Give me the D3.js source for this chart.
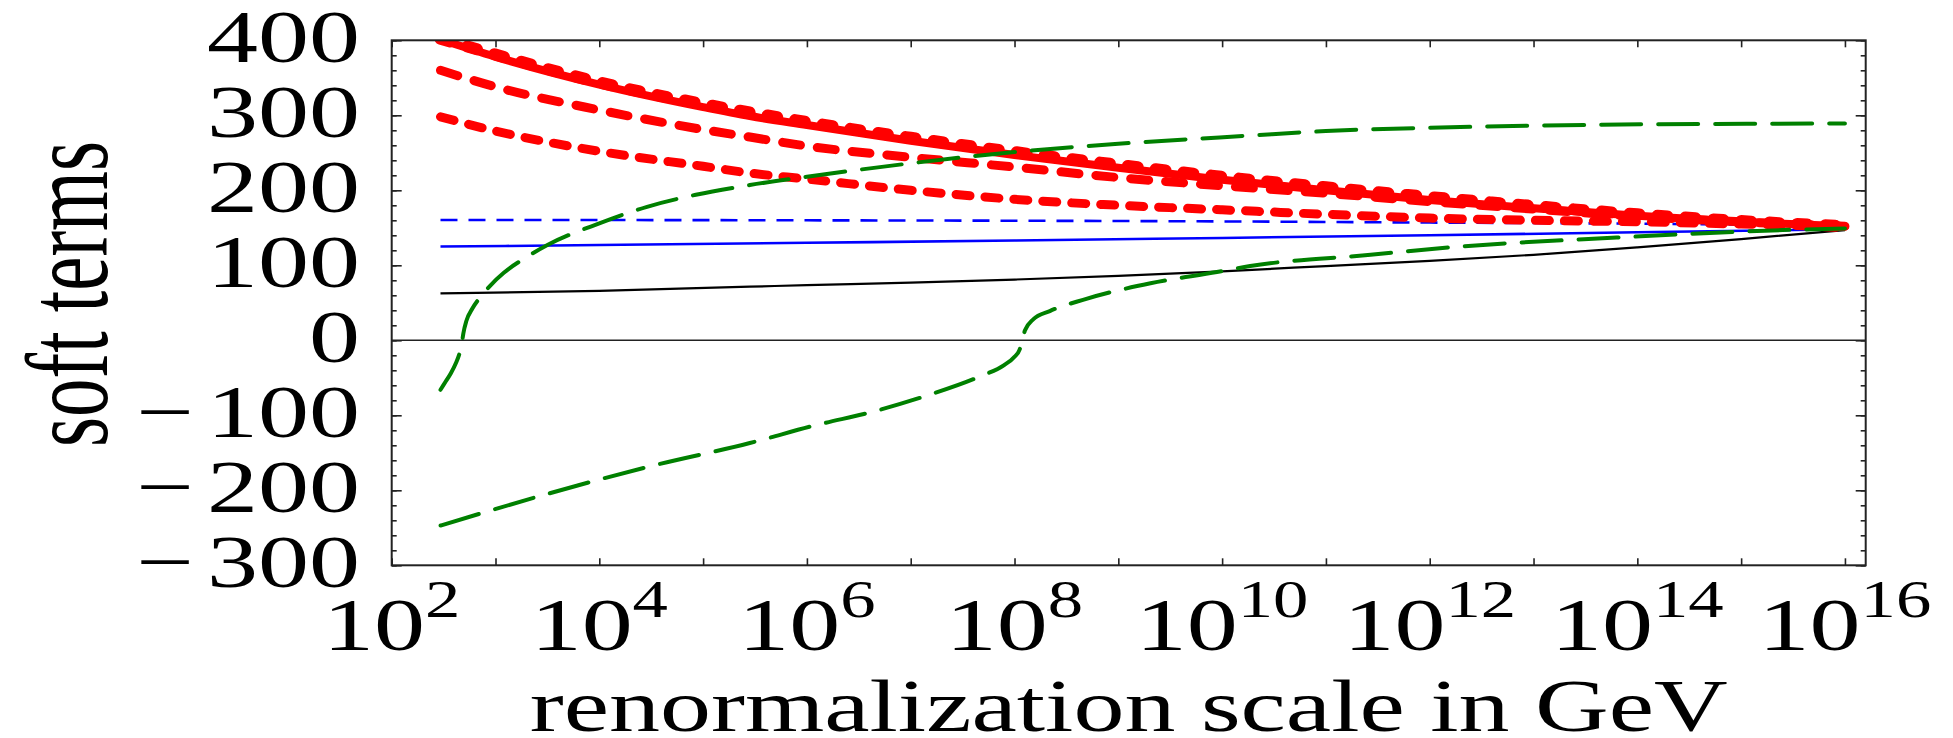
<!DOCTYPE html>
<html>
<head>
<meta charset="utf-8">
<script src="https://cdn.jsdelivr.net/npm/d3@7"></script>
<style>
  body { margin: 0; background: #fff; }
  text { font-family: "Liberation Serif", "Times New Roman", serif; fill: #000; }
</style>
</head>
<body>
<div id="chart"></div>
<script>
// x values are log10 of the renormalization scale in GeV, y values are soft terms in GeV
const redSolid = [[2.47,401],[3,378],[4,341],[5,311],[5.45,299],[6,287],[7,266],[8,247],[9,230],[10,214],[11,200],[12,187],[13,176],[14,166],[15,158],[16,152]];
const redThick = [[2.47,402],[3,381],[4,344],[5,315],[6,291],[7,270],[8,251],[9,234],[10,218],[11,204],[12,191],[13,179],[14,168],[15,159],[16,152]];
const redMid = [[2.47,360],[3,338],[4,307],[5,281],[5.45,271],[6,259],[7,244],[8,231],[9,217],[10,206],[11,196],[12,185],[13,175],[14,165],[15,158],[16,152]];
const redLow = [[2.47,298],[3,279],[4,252],[5,232],[5.45,223],[6,215],[7,200],[8,188],[9,180],[10,174],[11,168],[12,163],[13,160],[14,158],[15,155],[16,152]];
const blueDashed = [[2.47,160.5],[6,160],[10,158.5],[12,157],[14,155.5],[16,153]];
const blueSolid = [[2.47,125],[4,127],[6,130],[8,133],[10,136.5],[12,140],[14,144],[16,148]];
const blackSolid = [[2.47,62.5],[4,66],[5.45,71.5],[6,73.5],[7,77],[8,81],[9,86],[10,92],[11,99],[12,106],[13,114],[14,124],[15,135],[16,147]];
const greenA = [[2.47,-66],[2.52,-55],[2.57,-44],[2.62,-30],[2.65,-19],[2.67,-9],[2.68,0],[2.69,9],[2.72,26],[2.78,43],[2.85,57],[2.95,73],[3.08,90],[3.3,111],[3.5,127],[4,156],[4.46,178],[4.93,194],[5.45,207],[6,218],[7,236],[8,251],[9,262],[10.27,273],[11,279],[12.2,284],[14.1,288],[16,289]];
const greenB = [[2.47,-247],[3.52,-204],[4.49,-168],[5.45,-137],[6.09,-113],[6.64,-95],[7.15,-74],[7.67,-48],[7.9,-33],[8.0,-22],[8.05,-12],[8.075,0],[8.1,13],[8.18,28],[8.34,39],[8.66,54],[9.31,76],[9.95,91],[10.27,99],[11.43,114],[12.29,125],[13.8,137],[15.4,147],[16,149]];

const xDecades = d3.range(2, 17);           // tick at every decade
const xLabelExps = [2, 4, 6, 8, 10, 12, 14, 16];
const yMajor = [-300, -200, -100, 0, 100, 200, 300, 400];
const yMinor = d3.range(-300, 401, 20);

const xTitle = "renormalization scale in GeV";
const yTitle = "soft terms";

const width = 1953, height = 738;
const margin = {top: 40.3, right: 87.3, bottom: 172.7, left: 391.7};
const SX = 1.36;   // the original figure is stretched horizontally

const x = d3.scaleLog().domain([1e2, Math.pow(10, 16.2)]).range([margin.left, width - margin.right]);
const y = d3.scaleLinear().domain([-300, 400]).range([height - margin.bottom, margin.top]);

const svg = d3.select("#chart").append("svg")
    .attr("width", width)
    .attr("height", height);

svg.append("defs").append("clipPath").attr("id", "plot-clip")
  .append("rect")
    .attr("x", margin.left).attr("y", margin.top)
    .attr("width", x.range()[1] - margin.left)
    .attr("height", y.range()[0] - margin.top);

// zero line
svg.append("line")
    .attr("x1", x.range()[0]).attr("x2", x.range()[1])
    .attr("y1", y(0)).attr("y2", y(0))
    .attr("stroke", "#222").attr("stroke-width", 1.6);

const line = d3.line()
    .x(d => x(Math.pow(10, d[0])))
    .y(d => y(d[1]))
    .curve(d3.curveMonotoneX);

const series = [
  {data: blackSolid, color: "#000", width: 2.2, dash: null, cap: "butt"},
  {data: blueSolid, color: "#0000ff", width: 2.6, dash: null, cap: "butt"},
  {data: blueDashed, color: "#0000ff", width: 2.6, dash: "17,11", cap: "butt"},
  {data: redLow, color: "#ff0000", width: 9, dash: "14,15", cap: "round"},
  {data: redMid, color: "#ff0000", width: 9, dash: "18,17", cap: "round"},
  {data: redSolid, color: "#ff0000", width: 8, dash: null, cap: "round"},
  {data: redThick, color: "#ff0000", width: 12, dash: "10,18", cap: "round"},
  {data: greenA, color: "#008000", width: 4, dash: "40,17", cap: "round"},
  {data: greenB, color: "#008000", width: 4, dash: "40,17", cap: "round"}
];

const curves = svg.append("g").attr("clip-path", "url(#plot-clip)");
curves.selectAll("path")
  .data(series)
  .join("path")
    .attr("d", d => line(d.data))
    .attr("fill", "none")
    .attr("stroke", d => d.color)
    .attr("stroke-width", d => d.width)
    .attr("stroke-dasharray", d => d.dash)
    .attr("stroke-linecap", d => d.cap)
    .attr("stroke-linejoin", "round");

// frame ticks, all pointing inward
const axisG = svg.append("g").attr("class", "axes");
const tickStyle = g => {
  g.select(".domain").remove();
  g.selectAll(".tick line").attr("stroke", "#222").attr("stroke-width", 1.6);
  g.selectAll(".tick text").remove();
};
const decadeVals = xDecades.map(e => Math.pow(10, e));

axisG.append("g").attr("transform", `translate(0,${y.range()[0]})`)
  .call(d3.axisBottom(x).tickValues(decadeVals).tickSize(-7)).call(tickStyle);
axisG.append("g").attr("transform", `translate(0,${margin.top})`)
  .call(d3.axisTop(x).tickValues(decadeVals).tickSize(-7)).call(tickStyle);
axisG.append("g").attr("transform", `translate(${margin.left},0)`)
  .call(d3.axisLeft(y).tickValues(yMinor).tickSize(-5)).call(tickStyle);
axisG.append("g").attr("transform", `translate(${margin.left},0)`)
  .call(d3.axisLeft(y).tickValues(yMajor).tickSize(-10)).call(tickStyle);
axisG.append("g").attr("transform", `translate(${x.range()[1]},0)`)
  .call(d3.axisRight(y).tickValues(yMinor).tickSize(-5)).call(tickStyle);
axisG.append("g").attr("transform", `translate(${x.range()[1]},0)`)
  .call(d3.axisRight(y).tickValues(yMajor).tickSize(-10)).call(tickStyle);

// frame
svg.append("rect")
    .attr("x", margin.left).attr("y", margin.top)
    .attr("width", x.range()[1] - margin.left)
    .attr("height", y.range()[0] - margin.top)
    .attr("fill", "none")
    .attr("stroke", "#222")
    .attr("stroke-width", 2);

// y tick labels
const yLab = svg.append("g").selectAll("text")
  .data(yMajor)
  .join("text")
    .attr("transform", d => `translate(360,${y(d) + 22}) scale(${SX},1)`)
    .attr("text-anchor", "end")
    .attr("font-size", 75);
yLab.each(function(d) {
  const t = d3.select(this);
  if (d < 0) {
    t.append("tspan").text("\u2212");
    t.append("tspan").attr("dx", 10).text(Math.abs(d));
  } else {
    t.append("tspan").text(d);
  }
});

// x tick labels 10^n
const xLab = svg.append("g").selectAll("text")
  .data(xLabelExps)
  .join("text")
    .attr("transform", d => `translate(${x(Math.pow(10, d))},650) scale(${SX},1)`)
    .attr("text-anchor", "middle")
    .attr("font-size", 75);
xLab.append("tspan").text("10");
xLab.append("tspan").attr("font-size", 52).attr("dy", -33).text(d => d);

// axis titles
svg.append("text")
    .attr("transform", `translate(${(x.range()[0] + x.range()[1]) / 2},731) scale(${SX},1)`)
    .attr("text-anchor", "middle")
    .attr("font-size", 75)
    .text(xTitle);

svg.append("text")
    .attr("transform", `translate(107,294) scale(1.5,1) rotate(-90)`)
    .attr("text-anchor", "middle")
    .attr("font-size", 77)
    .text(yTitle);
</script>
</body>
</html>
